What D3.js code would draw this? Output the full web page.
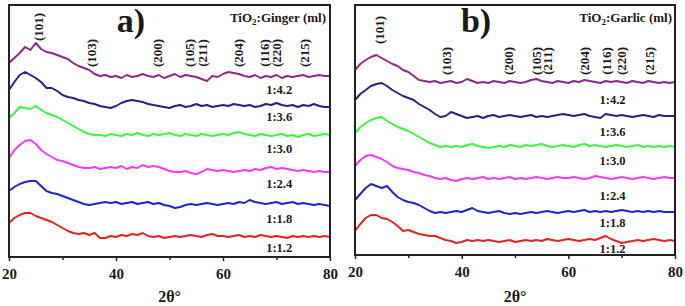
<!DOCTYPE html>
<html>
<head>
<meta charset="utf-8">
<script src="https://cdn.jsdelivr.net/npm/d3@7"></script>
<style>
  body { margin: 0; background: #fff; }
  text { font-family: "Liberation Serif", "Times New Roman", serif; font-weight: bold; fill: #1a1a1a; }
</style>
</head>
<body>
<svg id="chart" width="685" height="306"></svg>
<script>
// 2theta grid (degrees)
const twoTheta = [20,21,22,23,24,25,26,27,28,29,30,31,32,33,34,35,36,37,38,39,
  40,41,42,43,44,45,46,47,48,49,50,51,52,53,54,55,56,57,58,59,
  60,61,62,63,64,65,66,67,68,69,70,71,72,73,74,75,76,77,78,79,80];

const ratios = ['1:4.2', '1:3.6', '1:3.0', '1:2.4', '1:1.8', '1:1.2'];
const colors = ['#8c2a8c', '#26237e', '#3cf53c', '#f03cf0', '#2424c6', '#de2424'];

const hkl = ['(101)', '(103)', '(200)', '(105)', '(211)', '(204)', '(116)', '(220)', '(215)'];
const peakPosGinger = [25.6, 35.4, 47.8, 53.8, 56.1, 62.9, 67.8, 70.0, 75.3];
const peakPosGarlic = [24.5, 37.1, 48.7, 54.1, 56.0, 63.1, 67.1, 69.9, 75.3];

// intensities (a.u., stacked) - TiO2:Ginger
const ginger42 = [194,199,204,210,207,214,208,205,204,202,200,198,194,191,189,187,183,181,182,180,
  181,179,182,180,181,183,181,180,182,179,181,183,180,182,181,180,178,176,181,180,
  183,185,184,183,181,180,182,179,181,180,182,179,181,180,181,182,180,181,182,181,181];
const ginger36 = [167,175,182,185,182,179,175,169,169,166,162,160,159,157,156,154,153,151,150,149,
  151,154,156,157,156,155,153,152,151,150,149,151,152,150,151,153,151,152,150,151,
  152,151,153,152,151,152,150,151,153,152,154,152,151,152,150,152,151,153,151,150,150];
const ginger30 = [139,144,150,149,148,151,147,144,142,140,137,134,131,128,125,123,122,122,121,123,
  122,121,123,122,124,122,121,123,122,123,124,122,121,123,122,121,123,122,121,122,
  123,122,124,125,123,122,121,123,122,121,122,123,121,122,120,122,123,121,122,123,122];
const ginger24 = [99,107,112,116,117,113,107,103,100,97,96,94,92,90,89,89,90,88,89,90,
  89,91,88,90,89,92,90,91,90,88,86,85,85,86,84,83,85,88,87,86,
  87,86,85,86,87,86,88,87,89,90,88,89,88,87,86,87,86,85,86,85,85];
const ginger18 = [66,70,73,75,76,76,71,66,64,63,61,59,57,55,53,52,53,54,55,54,
  55,53,54,55,53,54,55,53,54,52,51,49,50,52,53,52,53,54,53,52,
  53,54,53,55,54,57,55,54,53,54,55,53,54,55,53,54,53,52,53,52,51];
const ginger12 = [34,39,42,44,44,41,39,37,35,32,29,26,24,23,24,22,24,19,19,21,
  20,22,21,23,22,24,21,20,21,19,20,21,20,21,22,21,20,22,23,21,
  21,20,21,22,20,21,20,22,21,20,21,20,19,21,20,21,20,21,20,21,20];

// TiO2:Garlic
const garlic42 = [185,191,195,198,200,197,194,191,189,185,183,179,175,174,173,174,172,173,174,172,
  173,176,174,172,173,172,174,173,172,174,173,172,173,175,176,174,173,172,174,173,
  172,174,173,175,174,173,172,174,173,174,173,172,174,173,172,174,173,172,173,172,173];
const garlic36 = [155,161,165,169,171,172,169,165,162,159,157,155,151,148,145,141,138,139,143,141,
  139,137,138,139,137,139,140,138,139,140,139,138,139,140,138,139,138,139,140,141,
  140,139,140,141,139,138,137,141,140,139,140,139,138,139,140,139,138,140,139,139,139];
const garlic30 = [122,128,132,135,137,138,134,131,128,126,124,121,118,115,112,110,108,109,108,109,
  108,110,111,109,108,107,108,109,108,110,109,108,110,109,110,111,109,108,109,110,
  109,108,110,111,109,110,109,108,109,110,109,108,109,110,108,109,108,109,108,109,108];
const garlic24 = [89,95,99,100,98,96,93,89,87,86,85,83,82,80,79,77,76,77,75,74,
  76,77,76,77,78,76,77,76,77,78,76,77,76,77,78,77,76,77,78,77,
  77,78,77,76,77,79,78,77,76,77,78,77,76,77,78,77,76,77,78,77,77];
const garlic18 = [55,61,67,71,69,67,69,63,58,55,53,52,50,47,44,42,43,42,43,44,
  43,45,47,44,43,42,43,44,42,41,42,41,42,43,42,43,44,43,42,43,
  44,43,44,45,43,44,43,44,43,44,45,44,43,44,43,44,43,44,43,43,43];
const garlic12 = [24,31,37,40,40,37,36,33,29,24,25,23,21,20,19,19,17,15,14,12,
  13,15,14,15,14,15,14,13,14,15,13,14,15,14,15,14,16,15,14,15,
  16,15,14,15,16,15,17,19,16,14,12,13,14,15,14,15,16,15,14,15,14];

const panels = [
  {
    tag: 'a)', legend: 'Ginger',
    series: [ginger42, ginger36, ginger30, ginger24, ginger18, ginger12],
    peaks: peakPosGinger,
    box: { left: 9, right: 330, top: 5, bottom: 257 },
    tagX: 131, legendX: 326, ratioAt: 70.5,
    ratioOffset: [12, 12, 15, 16, 15, 11],
    peak101Y: 27, peakY: 53
  },
  {
    tag: 'b)', legend: 'Garlic',
    series: [garlic42, garlic36, garlic30, garlic24, garlic18, garlic12],
    peaks: peakPosGarlic,
    box: { left: 355, right: 675, top: 5, bottom: 255 },
    tagX: 476, legendX: 672, ratioAt: 68.3,
    ratioOffset: [18, 17, 15, 17, 11, 10],
    peak101Y: 30, peakY: 61
  }
];

const svg = d3.select('#chart');

panels.forEach(p => {
  const b = p.box;
  const x = d3.scaleLinear().domain([20, 80]).range([b.left, b.right]);
  const y = d3.scaleLinear().domain([0, b.bottom - b.top]).range([b.bottom, b.top]);

  const g = svg.append('g');

  // traces
  const line = d3.line()
    .x((d, i) => x(twoTheta[i]))
    .y(d => y(d))
    .curve(d3.curveLinear);

  p.series.forEach((s, i) => {
    g.append('path')
      .attr('d', line(s))
      .attr('fill', 'none')
      .attr('stroke', colors[i])
      .attr('stroke-width', 2)
      .attr('stroke-linejoin', 'round');

    const idx = twoTheta.indexOf(Math.round(p.ratioAt));
    g.append('text')
      .attr('x', x(p.ratioAt))
      .attr('y', y(s[idx]) + p.ratioOffset[i])
      .attr('text-anchor', 'middle')
      .attr('dominant-baseline', 'central')
      .style('font-size', '12.5px')
      .text(ratios[i]);
  });

  // frame
  g.append('rect')
    .attr('x', b.left)
    .attr('y', b.top)
    .attr('width', b.right - b.left)
    .attr('height', b.bottom - b.top)
    .attr('fill', 'none')
    .attr('stroke', '#222')
    .attr('stroke-width', 2);

  // x axis, major + minor ticks
  const xAxis = d3.axisBottom(x)
    .tickValues([20, 40, 60, 80])
    .tickSize(4)
    .tickPadding(7)
    .tickFormat(d3.format('d'));
  const ax = g.append('g')
    .attr('transform', `translate(0, ${b.bottom})`)
    .call(xAxis);
  ax.select('.domain').remove();
  ax.selectAll('line').attr('stroke', '#222').attr('stroke-width', 1.5);
  ax.selectAll('text')
    .style('font-size', '15px')
    .style('font-family', '"Liberation Serif", serif')
    .style('font-weight', 'bold')
    .attr('fill', '#1a1a1a');

  const minor = g.append('g')
    .attr('transform', `translate(0, ${b.bottom})`)
    .call(d3.axisBottom(x).tickValues([30, 50, 70]).tickSize(3).tickFormat(''));
  minor.select('.domain').remove();
  minor.selectAll('line').attr('stroke', '#222').attr('stroke-width', 1.5);

  // axis title
  g.append('text')
    .attr('x', (b.left + b.right) / 2)
    .attr('y', 296)
    .attr('text-anchor', 'middle')
    .attr('dominant-baseline', 'central')
    .style('font-size', '16px')
    .text('2θ°');

  // panel tag
  g.append('text')
    .attr('x', p.tagX)
    .attr('y', 32)
    .attr('text-anchor', 'middle')
    .style('font-size', '34px')
    .text(p.tag);

  // legend title with subscript
  const lt = g.append('text')
    .attr('x', p.legendX)
    .attr('y', 22)
    .attr('text-anchor', 'end')
    .style('font-size', '13px');
  lt.append('tspan').text('TiO');
  lt.append('tspan').attr('dy', 3).style('font-size', '9px').text('2');
  lt.append('tspan').attr('dy', -3).text(`:${p.legend} (ml)`);

  // hkl labels
  hkl.forEach((h, i) => {
    const cy = i === 0 ? p.peak101Y : p.peakY;
    g.append('text')
      .attr('transform', `translate(${x(p.peaks[i])}, ${cy}) rotate(-90)`)
      .attr('text-anchor', 'middle')
      .attr('dominant-baseline', 'central')
      .style('font-size', '13px')
      .text(h);
  });
});
</script>
</body>
</html>
